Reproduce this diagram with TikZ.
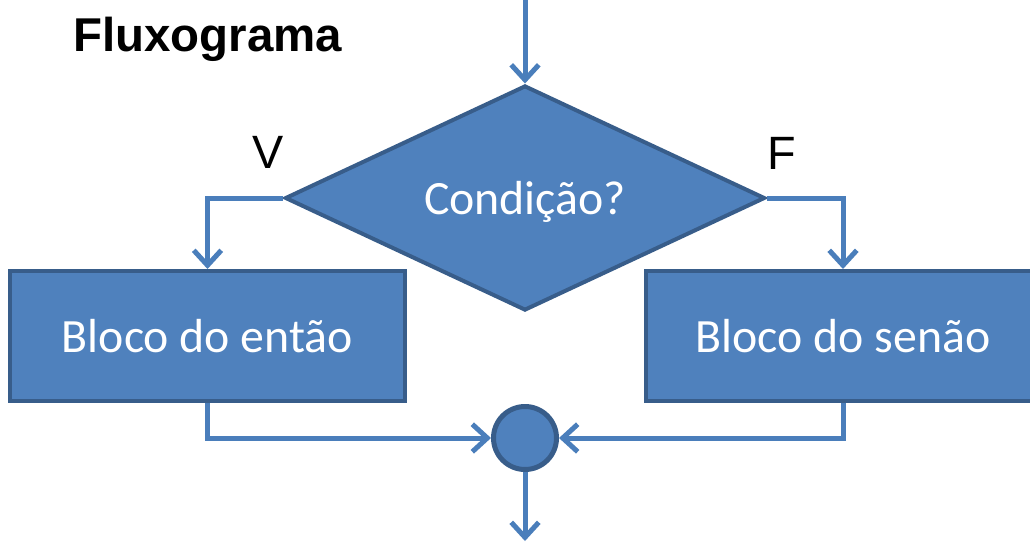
\documentclass[tikz,border=0pt]{standalone}
\usepackage{fontspec}
\setmainfont{Carlito}
\newfontfamily\arialfont{Liberation Sans}
\usetikzlibrary{positioning}
\usetikzlibrary{arrows.meta}
\usetikzlibrary{shapes.geometric}
\definecolor{boxfill}{HTML}{4F81BD}
\definecolor{boxline}{HTML}{385D8A}
\definecolor{flowline}{HTML}{4A7EBB}

\begin{document}
\begin{tikzpicture}[node distance=0.1cm, >={Straight Barb[length=0.3cm,width=0.55cm]},
  block/.style={rectangle, draw=boxline, fill=boxfill, line width=0.08cm, text=white,
    font=\fontsize{27.2}{32}\selectfont, minimum width=7.9cm, minimum height=2.6cm, inner sep=0},
  decision/.style={diamond, aspect=2.16, draw=boxline, fill=boxfill, line width=0.08cm, text=white,
    font=\fontsize{27.2}{32}\selectfont, minimum width=9.6cm, minimum height=4.5cm, inner sep=0,
    text height=0.64cm, text depth=0cm},
  merge/.style={circle, draw=boxline, fill=boxfill, line width=0.1cm, minimum size=1.26cm, inner sep=0},
  flow/.style={draw=flowline, line width=0.1cm, ->},
  tag/.style={font=\arialfont\fontsize{26.6}{30}\selectfont, inner sep=0, anchor=base}]

\useasboundingbox (0,0) rectangle (20.6,-10.9);

% title
\node [tag, font=\arialfont\bfseries\fontsize{27}{30}\selectfont] (title) at (4.15,-1.02) {Fluxograma};

% condition and the two blocks (the right one runs past the edge)
\node [decision] (cond) at (10.5,-3.96) {Condição?};
\node [block] (then) at (4.15,-6.72) {Bloco do então};
\node [block] (else) at (16.86,-6.72) {Bloco do senão};
\node [merge] (join) at (10.5,-8.76) {};
\coordinate (in) at (10.5,0);
\coordinate (out) at (10.5,-10.82);

% labels of the branches
\node [tag] (v) at (5.36,-3.36) {V};
\node [tag] (f) at (15.64,-3.38) {F};

% connectors
\draw [flow] (in) -- (cond.north);
\draw [flow] (cond.west) -| (then.north);
\draw [flow] (cond.east) -| (else.north);
\draw [flow] (then.south) |- (join.west);
\draw [flow] (else.south) |- (join.east);
\draw [flow] (join.south) -- (out);

\end{tikzpicture}
\end{document}
